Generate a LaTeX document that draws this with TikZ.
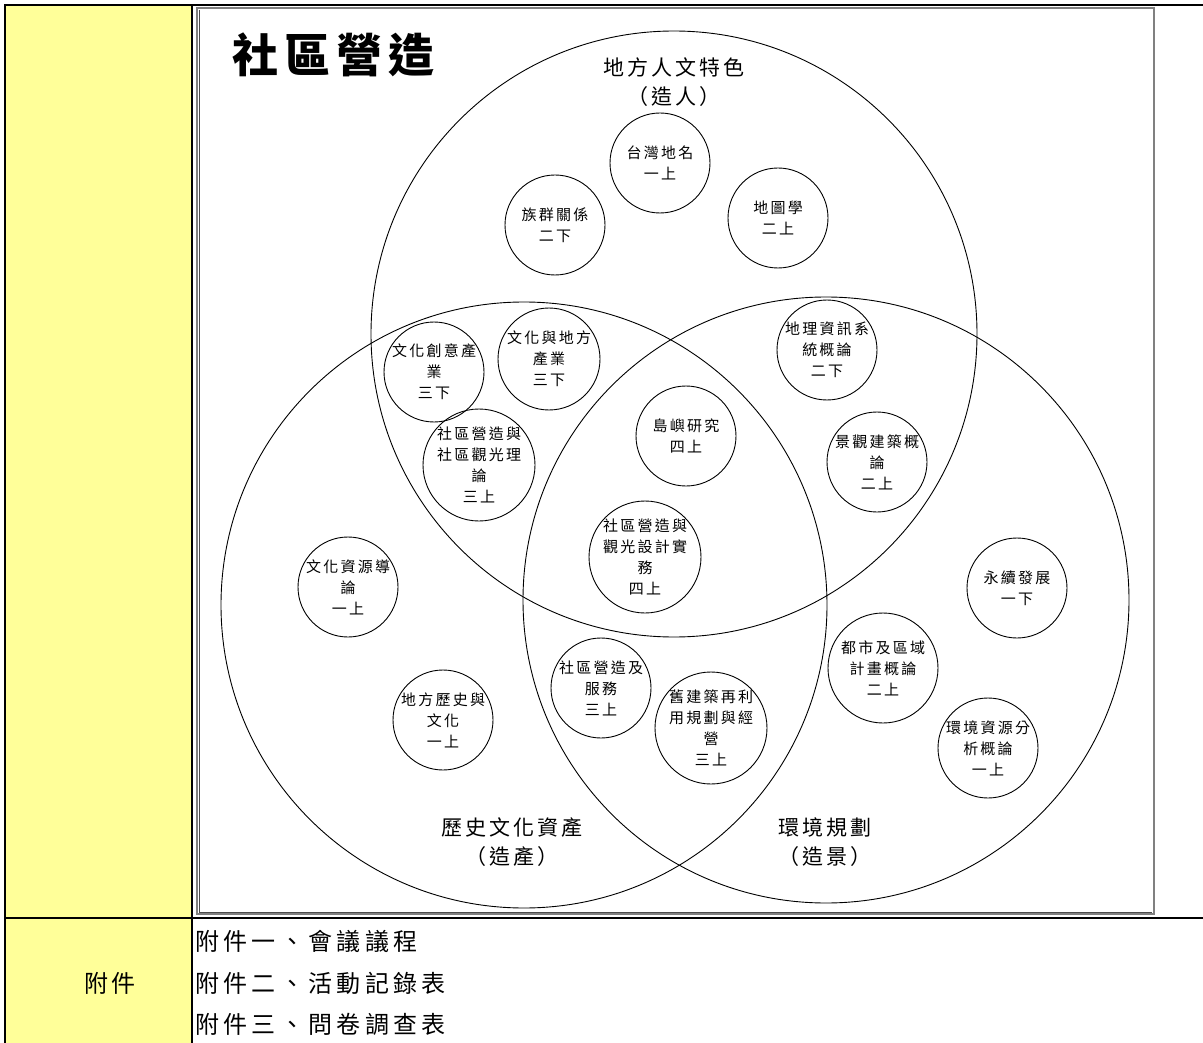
\documentclass[tikz,border=0pt]{standalone}
\usepackage{fontspec}
\newfontfamily\cjk{Noto Sans CJK TC}
\newfontfamily\cjkls{Noto Sans CJK TC}[LetterSpace=15]
\newfontfamily\cjkwide{Noto Sans CJK TC}[LetterSpace=18]
\newfontfamily\cjktitle{Noto Sans CJK TC}[LetterSpace=13]
\definecolor{paleyellow}{HTML}{FFFF99}
\definecolor{framegray}{HTML}{808080}
\tikzset{
  tableline/.style={line width=2.4pt, black},
  bigring/.style={circle, draw, line width=0.9pt, inner sep=0pt, minimum size=606pt},
  ring/.style={circle, draw, line width=0.9pt, inner sep=0pt, minimum size=100pt},
  ringtext/.style={inner sep=0pt, align=center, font=\cjkls\fontsize{15}{21}\selectfont},
  settitle/.style={inner sep=0pt, align=center, font=\cjkls\fontsize{21}{29}\selectfont},
  maintitle/.style={inner sep=0pt, font=\cjktitle\bfseries\fontsize{46}{50}\selectfont},
  rowtext/.style={inner sep=0pt, anchor=west, font=\cjkwide\fontsize{24}{30}\selectfont},
}
\begin{document}
\begin{tikzpicture}[x=1pt,y=-1pt]
\useasboundingbox (0,0) rectangle (1203,1043);
% table
\fill[paleyellow] (5,5) rectangle (192,1043);
\draw[tableline] (1203,5) -- (5,5) -- (5,1043);
\draw[tableline] (192,5) -- (192,1043);
\draw[tableline] (5,918) -- (1203,918);
% inner frame
\draw[framegray, line width=1.6pt] (197,8) rectangle (1154,914);
\draw[black!70, line width=0.6pt] (199,10) -- (199,912) -- (1152,912);
% title
\node[maintitle, anchor=west] (title) at (232,55) {社區營造};
% big circles
\node[bigring] (people) at (674,334) {};
\node[bigring] (heritage) at (524,605) {};
\node[bigring] (environ) at (826,600) {};
\node[settitle] (tpeople) at (674,82) {地方人文特色\\（造人）};
\node[settitle] (theritage) at (512,842) {歷史文化資產\\（造產）};
\node[settitle] (tenviron) at (825,842) {環境規劃\\（造景）};
% course circles
\node[ring] (c1) at (660,163) {};
\node[ringtext] at (c1) {台灣地名\\一上};
\node[ring] (c2) at (555,225) {};
\node[ringtext] at (c2) {族群關係\\二下};
\node[ring] (c3) at (778,218) {};
\node[ringtext] at (c3) {地圖學\\二上};
\node[ring] (c4) at (434,372) {};
\node[ringtext] at (c4) {文化創意產\\業\\三下};
\node[ring, minimum size=102pt] (c5) at (549,359) {};
\node[ringtext] at (c5) {文化與地方\\產業\\三下};
\node[ring] (c6) at (827,350) {};
\node[ringtext] at (c6) {地理資訊系\\統概論\\二下};
\node[ring] (c7) at (686,436) {};
\node[ringtext] at (c7) {島嶼研究\\四上};
\node[ring] (c8) at (877,462) {};
\node[ringtext] at (c8) {景觀建築概\\論\\二上};
\node[ring, minimum size=112pt] (c9) at (479,465) {};
\node[ringtext] at (c9) {社區營造與\\社區觀光理\\論\\三上};
\node[ring, minimum size=112pt] (c10) at (645,557) {};
\node[ringtext] at (c10) {社區營造與\\觀光設計實\\務\\四上};
\node[ring] (c11) at (348,587) {};
\node[ringtext] at (c11) {文化資源導\\論\\一上};
\node[ring] (c12) at (1017,588) {};
\node[ringtext] at (c12) {永續發展\\一下};
\node[ring, minimum size=110pt] (c13) at (883,668) {};
\node[ringtext] at (c13) {都市及區域\\計畫概論\\二上};
\node[ring] (c14) at (601,688) {};
\node[ringtext] at (c14) {社區營造及\\服務\\三上};
\node[ring] (c15) at (443,720) {};
\node[ringtext] at (c15) {地方歷史與\\文化\\一上};
\node[ring, minimum size=112pt] (c16) at (711,728) {};
\node[ringtext] at (c16) {舊建築再利\\用規劃與經\\營\\三上};
\node[ring] (c17) at (988,748) {};
\node[ringtext] at (c17) {環境資源分\\析概論\\一上};
% bottom row
\node[inner sep=0pt, font=\cjkls\fontsize{24}{30}\selectfont] (att) at (110,983) {附件};
\node[rowtext] (a1) at (195,941) {附件一、會議議程};
\node[rowtext] (a2) at (195,983) {附件二、活動記錄表};
\node[rowtext] (a3) at (195,1024) {附件三、問卷調查表};
\end{tikzpicture}
\end{document}
